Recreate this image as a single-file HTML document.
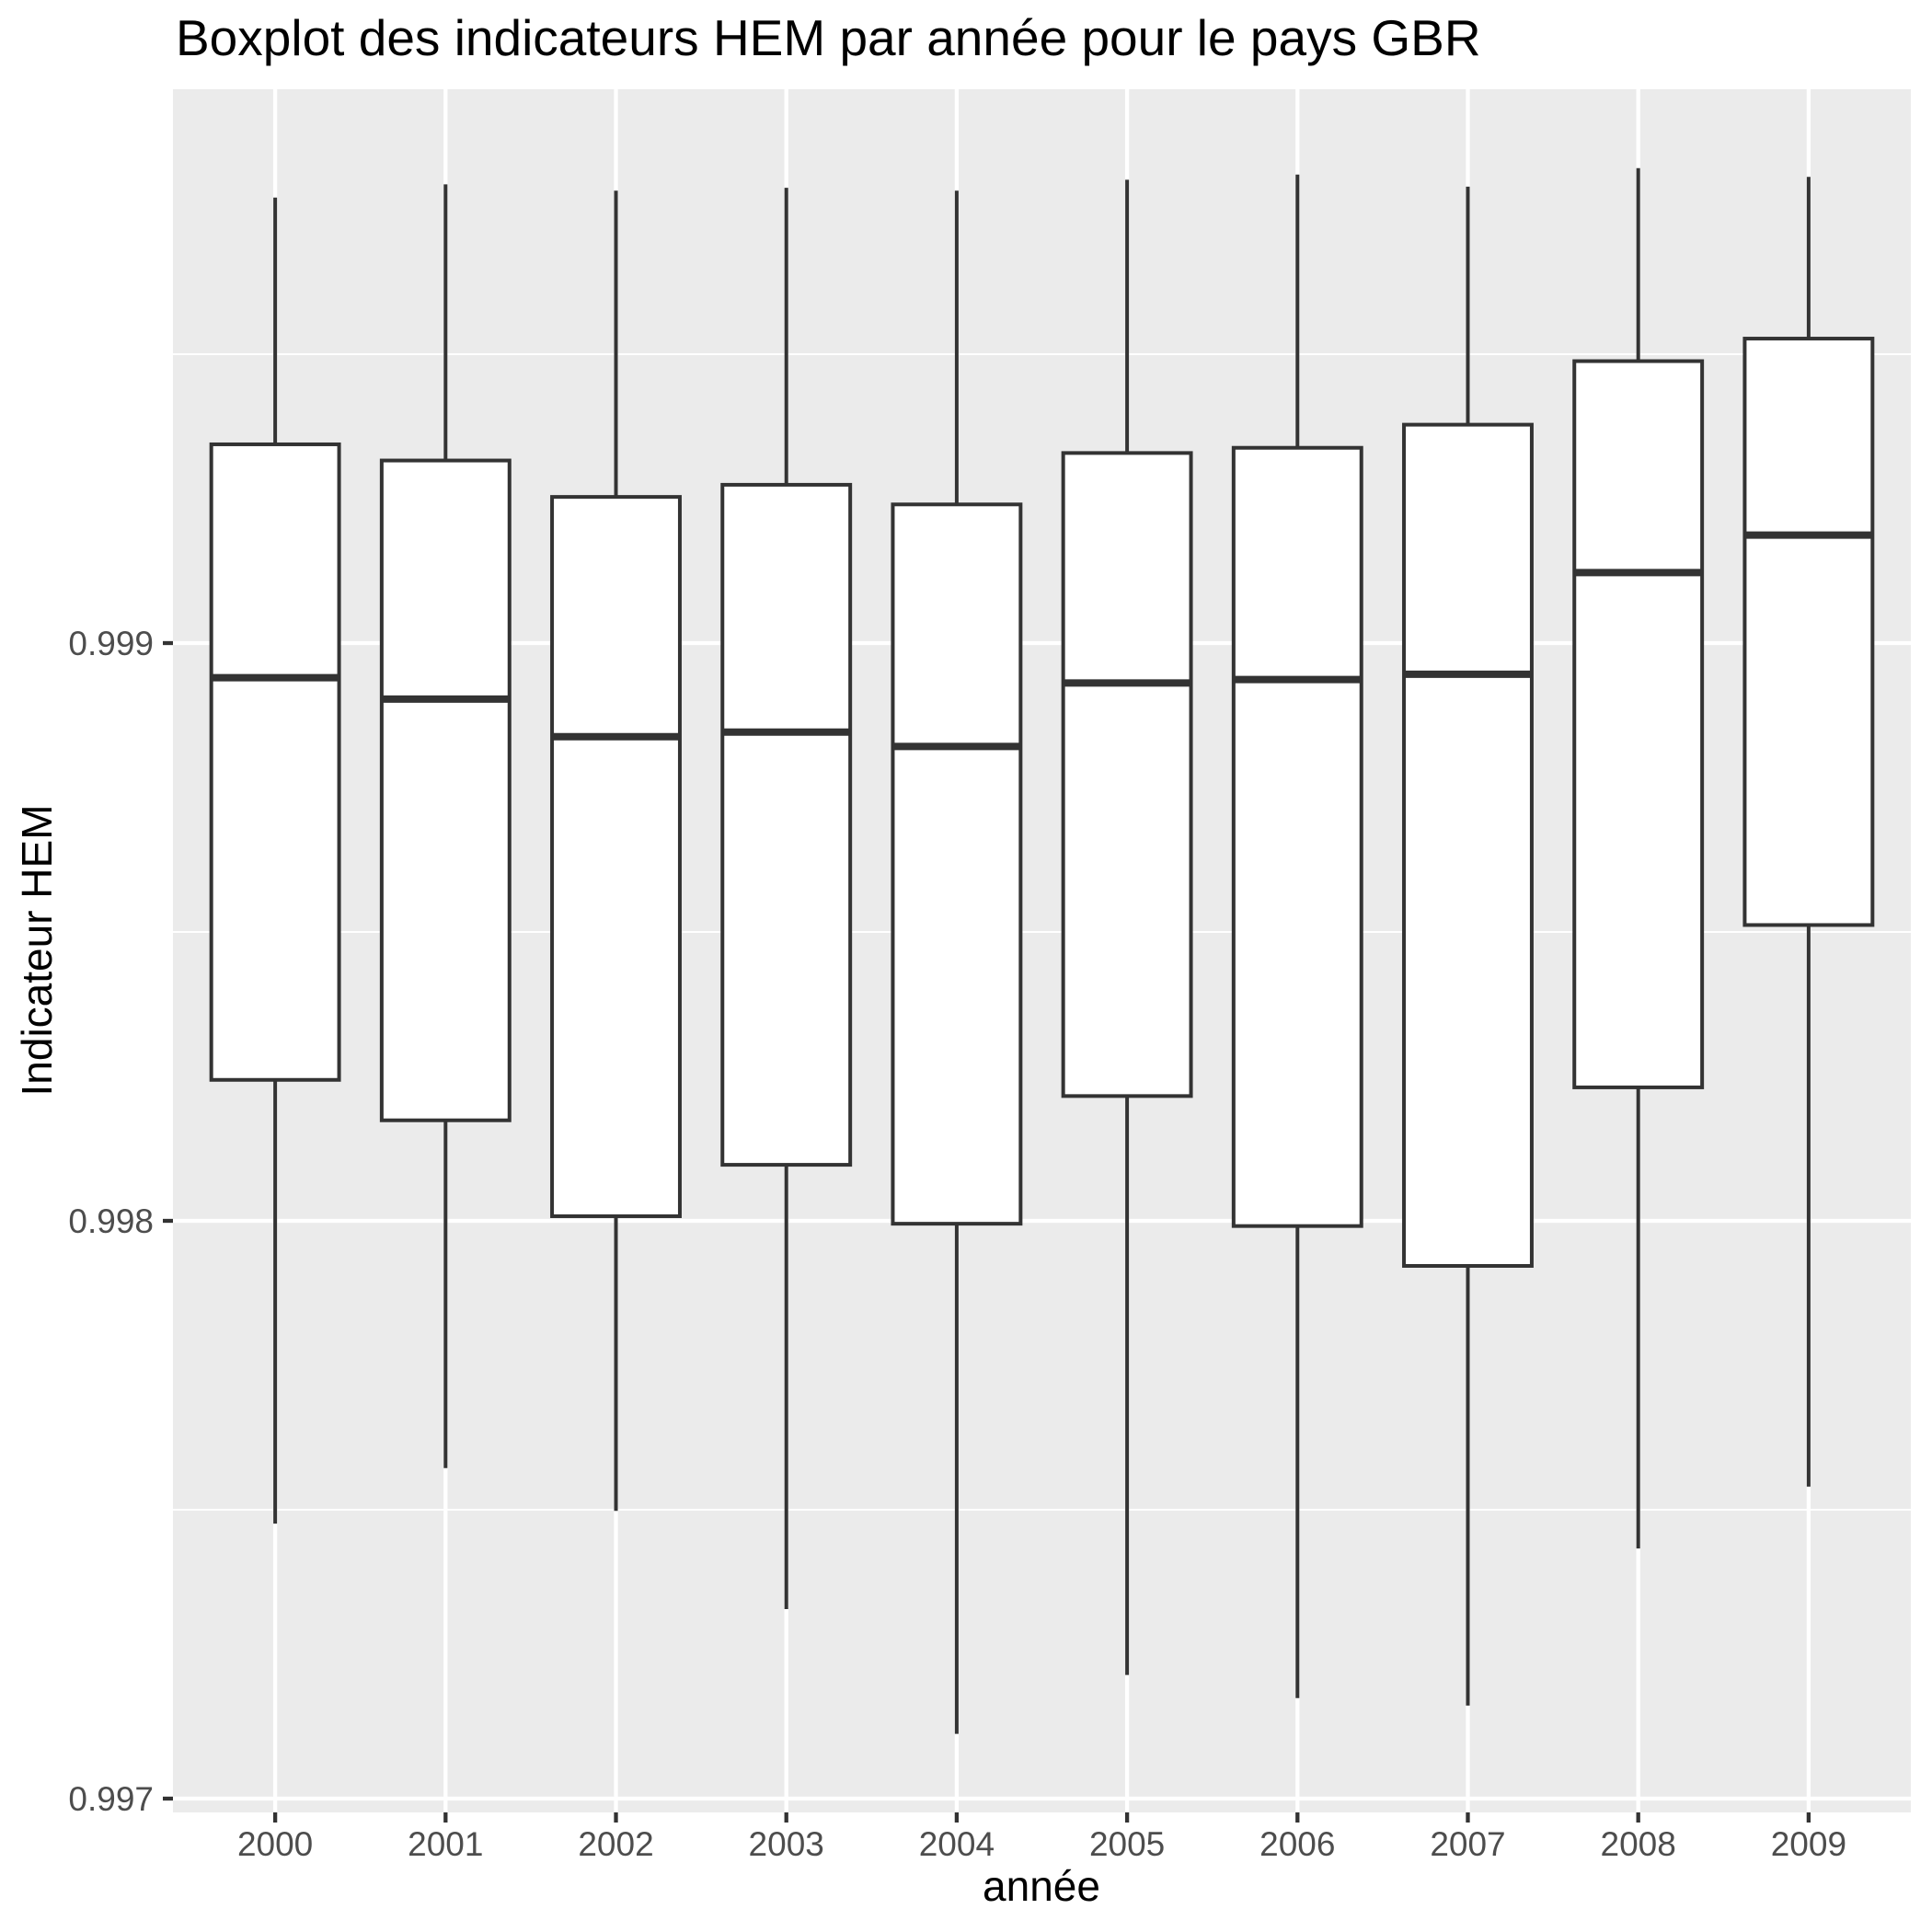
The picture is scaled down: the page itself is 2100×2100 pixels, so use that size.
<!DOCTYPE html>
<html><head><meta charset="utf-8"><style>
html,body{margin:0;padding:0;background:#fff;}
svg{display:block;}
text{font-family:"Liberation Sans",Arial,sans-serif;}
</style></head><body>
<svg id="chart" width="2100" height="2100" xmlns="http://www.w3.org/2000/svg">
<rect width="2100" height="2100" fill="#fff"/>
<text x="191" y="60" font-size="55" fill="#000">Boxplot des indicateurs HEM par année pour le pays GBR</text>
<rect x="188" y="97" width="1889" height="1873" fill="#ebebeb"/>
<g id="grid"></g>
<g id="boxes"></g>
<g id="axes"></g>
<text x="1132" y="2066" font-size="46" text-anchor="middle" fill="#000">année</text>
<text x="0" y="0" font-size="46" text-anchor="middle" fill="#000" transform="translate(56,1033) rotate(-90)">Indicateur HEM</text>
</svg>
<script>
const categories = ["2000","2001","2002","2003","2004","2005","2006","2007","2008","2009"];
const lowerWhisker = [0.997476,0.997572,0.997498,0.997328,0.997112,0.997214,0.997174,0.997161,0.997433,0.997540];
const q1Values     = [0.998244,0.998174,0.998008,0.998097,0.997995,0.998216,0.997991,0.997922,0.998231,0.998512];
const medianValues = [0.998940,0.998903,0.998838,0.998846,0.998821,0.998931,0.998937,0.998946,0.999122,0.999187];
const q3Values     = [0.999344,0.999316,0.999253,0.999274,0.999240,0.999329,0.999338,0.999378,0.999488,0.999527];
const upperWhisker = [0.999771,0.999794,0.999783,0.999788,0.999783,0.999802,0.999811,0.999790,0.999822,0.999807];
const yTicks = [0.997,0.998,0.999];
const yTickLabels = ["0.997","0.998","0.999"];
const yMinor = [0.9975,0.9985,0.9995];

const NS="http://www.w3.org/2000/svg";
const PL=188, PR=2077, PT=97, PB=1970;
const step=(PR-PL)/(categories.length-1+1.2);
function xPos(i){return PL+0.6*step+i*step;}
function yPos(v){return 1327-(v-0.998)*628000;}
function mk(tag,attrs,parent){const e=document.createElementNS(NS,tag);for(const k in attrs)e.setAttribute(k,attrs[k]);parent.appendChild(e);return e;}
const grid=document.getElementById('grid'), boxes=document.getElementById('boxes'), axes=document.getElementById('axes');
yMinor.forEach(v=>{
  const l=mk('line',{x1:PL,x2:PR,y1:yPos(v),y2:yPos(v),stroke:'#fff','stroke-width':2},grid);
  
  
});
yTicks.forEach((v,i)=>{
  const y=yPos(v);
  const l=mk('line',{x1:PL,x2:PR,y1:y,y2:y,stroke:'#fff','stroke-width':4.3},grid);
  
  
  const t=mk('line',{x1:177,x2:PL,y1:y,y2:y,stroke:'#333','stroke-width':4.3},axes);
  
  
  const tx=mk('text',{x:167,y:y+13,'font-size':37,'text-anchor':'end',fill:'#4d4d4d'},axes);
  tx.textContent=yTickLabels[i];
  
  
});
categories.forEach((c,i)=>{
  const x=xPos(i);
  const g=mk('line',{x1:x,x2:x,y1:PT,y2:PB,stroke:'#fff','stroke-width':4.3},grid);
  
  
  const t=mk('line',{x1:x,x2:x,y1:PB,y2:PB+11,stroke:'#333','stroke-width':4.3},axes);
  
  
  const tx=mk('text',{x:x,y:2017,'font-size':37,'text-anchor':'middle',fill:'#4d4d4d'},axes);
  tx.textContent=c;
  
  
  const hw=step*0.375;
  const grp=mk('g',{},boxes);
  
  
  const w1=mk('line',{x1:x,x2:x,y1:yPos(upperWhisker[i]),y2:yPos(q3Values[i]),stroke:'#333','stroke-width':4},grp);
  
  
  const w2=mk('line',{x1:x,x2:x,y1:yPos(q1Values[i]),y2:yPos(lowerWhisker[i]),stroke:'#333','stroke-width':4},grp);
  
  
  const r=mk('rect',{x:x-hw,y:yPos(q3Values[i]),width:2*hw,height:yPos(q1Values[i])-yPos(q3Values[i]),fill:'#fff',stroke:'#333','stroke-width':4},grp);
  
  
  const m=mk('line',{x1:x-hw,x2:x+hw,y1:yPos(medianValues[i]),y2:yPos(medianValues[i]),stroke:'#333','stroke-width':8},grp);
  
  
});
</script>
</body></html>
